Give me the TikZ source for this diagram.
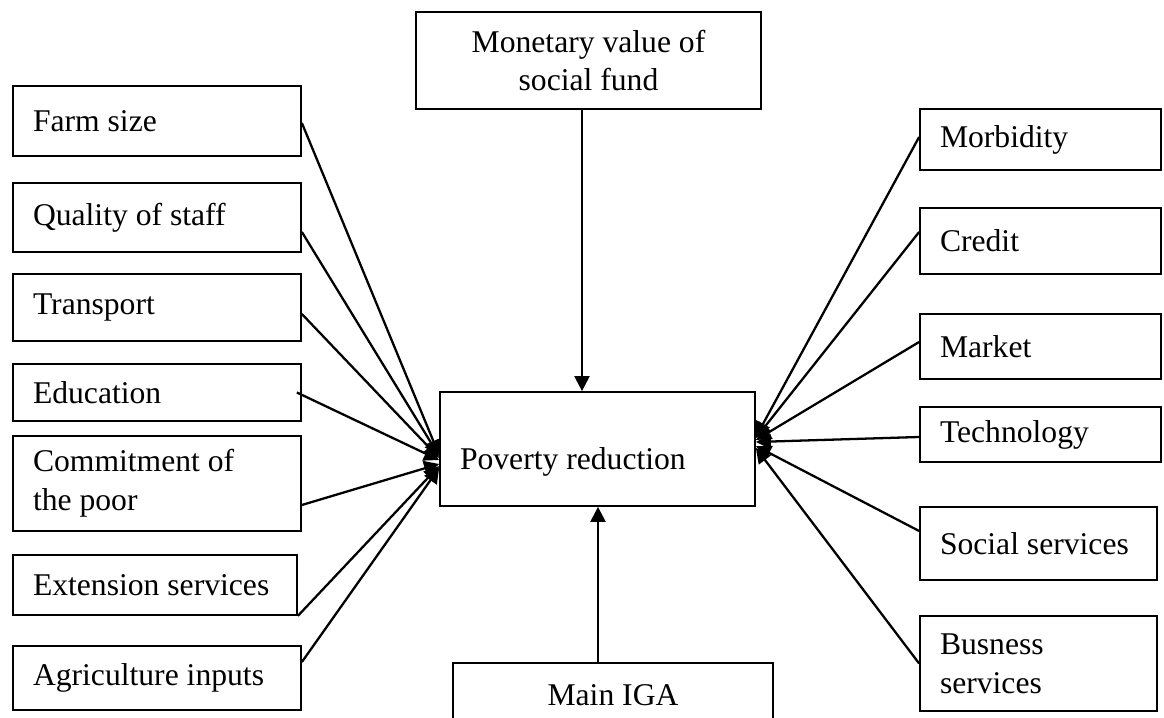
\documentclass[tikz,border=0pt]{standalone}
\usepackage{fontspec}
\setmainfont{Liberation Serif}
\usepackage{tikz}
\usetikzlibrary{arrows.meta}

\begin{document}
\begin{tikzpicture}[
  box/.style={draw,line width=1pt,inner xsep=4mm,inner ysep=0pt,align=flush left,
    font=\fontsize{18}{22}\selectfont},
  lbox/.style={box,minimum width=5.76cm,text width=4.96cm},
  rbox/.style={box,minimum width=4.82cm,text width=4.02cm},
  arr/.style={line width=1.3pt,-{Triangle[length=3mm,width=3mm]}}]
\useasboundingbox (0,0) rectangle (23.28,-14.36);
% left factors
\node[lbox,minimum height=1.40cm] (farm) at (3.14,-2.42) {Farm size};
\node[lbox,minimum height=1.38cm] (staff) at (3.14,-4.35) {Quality of staff};
\node[lbox,minimum height=1.34cm] (transport) at (3.14,-6.15) {Transport};
\node[lbox,minimum height=1.14cm] (education) at (3.14,-7.85) {Education};
\node[lbox,minimum height=1.90cm] (commitment) at (3.14,-9.67) {Commitment of\\the poor};
\node[lbox,minimum width=5.68cm,text width=4.88cm,minimum height=1.20cm] (extension) at (3.10,-11.70) {Extension services};
\node[lbox,minimum height=1.28cm] (agri) at (3.14,-13.56) {Agriculture inputs};
% centre column
\node[box,align=flush center,minimum width=6.90cm,minimum height=1.94cm] (monetary) at (11.77,-1.21) {Monetary value of\\social fund};
\node[box,text width=5.50cm,minimum width=6.30cm,text height=1.56cm,text depth=0.72cm] (poverty) at (11.95,-8.98) {Poverty reduction};
\node[box,align=flush center,minimum width=6.40cm,minimum height=1.28cm] (iga) at (12.26,-13.90) {Main IGA};
% right factors
\node[rbox,minimum height=1.22cm] (morbidity) at (20.81,-2.79) {Morbidity};
\node[rbox,minimum height=1.32cm] (credit) at (20.81,-4.82) {Credit};
\node[rbox,minimum height=1.30cm] (market) at (20.81,-6.93) {Market};
\node[rbox,minimum height=1.10cm] (technology) at (20.81,-8.69) {Technology};
\node[rbox,minimum width=4.74cm,text width=3.94cm,minimum height=1.46cm] (social) at (20.77,-10.87) {Social services};
\node[rbox,minimum width=4.74cm,text width=3.94cm,minimum height=1.90cm] (busness) at (20.77,-13.27) {Busness\\services};
% vertical arrows
\draw[arr] ([xshift=-1.3mm]monetary.south) -- ([xshift=-1.3mm]monetary.south |- poverty.north);
\draw[arr] ([xshift=-3mm]iga.north) -- ([xshift=-3mm]iga.north |- poverty.south);
% left arrows
\draw[arr] ([yshift=-0.4mm]farm.east) -- ([yshift=-1.2mm]poverty.west);
\draw[arr] ([yshift=-2.9mm]staff.east) -- ([yshift=-1.4mm]poverty.west);
\draw[arr] ([yshift=-1.3mm]transport.east) -- ([yshift=-1.8mm]poverty.west);
\draw[arr] ([xshift=-1mm]education.east) -- ([yshift=-2.2mm]poverty.west);
\draw[arr] ([yshift=-4.3mm]commitment.east) -- ([yshift=-3mm]poverty.west);
\draw[arr] (extension.south east) -- ([yshift=-3.4mm]poverty.west);
\draw[arr] ([yshift=3.2mm]agri.east) -- ([yshift=-3.8mm]poverty.west);
% right arrows
\draw[arr] ([yshift=0.5mm]morbidity.west) -- ([yshift=2.4mm]poverty.east);
\draw[arr] ([yshift=1.8mm]credit.west) -- ([yshift=2.2mm]poverty.east);
\draw[arr] ([yshift=0.9mm]market.west) -- ([yshift=1.8mm]poverty.east);
\draw[arr] ([yshift=-0.5mm]technology.west) -- ([yshift=1.4mm]poverty.east);
\draw[arr] ([yshift=2.5mm]social.west) -- ([yshift=0.6mm]poverty.east);
\draw[arr] (busness.west) -- ([yshift=0.2mm]poverty.east);
\end{tikzpicture}
\end{document}
